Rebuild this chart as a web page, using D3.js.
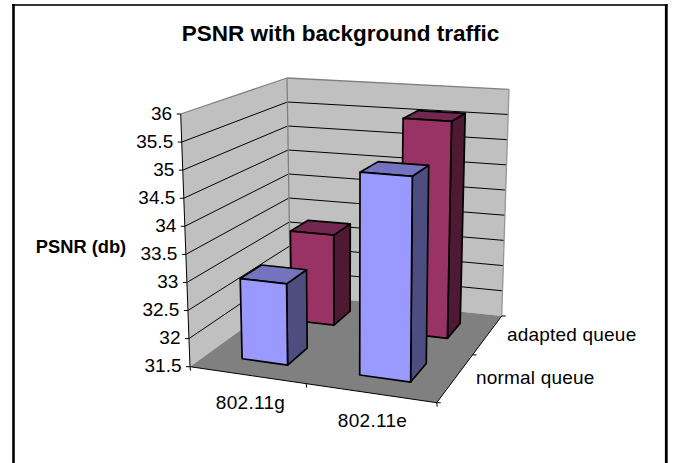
<!DOCTYPE html>
<html><head><meta charset="utf-8">
<style>html,body{margin:0;padding:0;background:#fff}svg{display:block}text{font-family:"Liberation Sans",Arial,sans-serif;fill:#000}</style>
<script src="https://d3js.org/d3.v7.min.js"></script></head>
<body><svg id="c" width="673" height="463"></svg>
<script>
const categories=["802.11g","802.11e"];
const seriesNames=["normal queue","adapted queue"];
const normalQueue=[32.95,35.05];
const adaptedQueue=[33.25,35.6];
const yTicks=[31.5,32,32.5,33,33.5,34,34.5,35,35.5,36];
const title="PSNR with background traffic";
const yTitle="PSNR (db)";

const svg=d3.select("#c");
const edge=(x1,y1,x2,y2,c,w)=>svg.append("line").attr("x1",x1).attr("y1",y1).attr("x2",x2).attr("y2",y2).attr("stroke",c).attr("stroke-width",w);
edge(12,5,667.5,5,"#333",1.8);
edge(13.5,4,13.5,463,"#000",2.6);
edge(666.3,4,666.3,463,"#000",2.8);

// perspective frame of the plot box
const floorQuad=[[190,366.7],[436.7,402.7],[501.7,316],[290.5,294]];
const ceilQuad=[[180.7,114],[439,131],[509,89.3],[287,78]];
function homography(q){
  const [[x0,y0],[x1,y1],[x2,y2],[x3,y3]]=q;
  const dx1=x1-x2,dx2=x3-x2,sx=x0-x1+x2-x3,dy1=y1-y2,dy2=y3-y2,sy=y0-y1+y2-y3;
  const det=dx1*dy2-dx2*dy1;
  const g=(sx*dy2-dx2*sy)/det,h=(dx1*sy-sx*dy1)/det;
  return (u,v)=>{
    const w=g*u+h*v+1;
    return [((x1-x0+g*x1)*u+(x3-x0+h*x3)*v+x0)/w,((y1-y0+g*y1)*u+(y3-y0+h*y3)*v+y0)/w];
  };
}
const hFloor=homography(floorQuad),hCeil=homography(ceilQuad);
const xBand=d3.scaleBand().domain(categories).range([0.008,1.008]).paddingInner(0.6).paddingOuter(0.3);
const zBand=d3.scaleBand().domain(seriesNames).range([0,1]).paddingInner(0.6).paddingOuter(0.3);
const yScale=d3.scaleLinear().domain([31.5,36]).range([0,1]);
const P=(u,v,val)=>{
  const a=hFloor(u,v),b=hCeil(u,v),t=yScale(val);
  return [a[0]+(b[0]-a[0])*t,a[1]+(b[1]-a[1])*t];
};
const poly=(pts,fill,stroke,sw)=>svg.append("polygon").attr("points",pts.map(p=>p.join(",")).join(" ")).attr("fill",fill).attr("stroke",stroke||"none").attr("stroke-width",sw||0).attr("stroke-linejoin","round");
const seg=(a,b,stroke,sw)=>edge(a[0],a[1],b[0],b[1],stroke,sw);
const [y0,y1]=yScale.domain();

// walls and floor
poly([P(0,0,y0),P(0,1,y0),P(0,1,y1),P(0,0,y1)],"#c0c0c0");
poly([P(0,1,y0),P(1,1,y0),P(1,1,y1),P(0,1,y1)],"#c0c0c0");
poly([P(0,0,y0),P(1,0,y0),P(1,1,y0),P(0,1,y0)],"#808080");
yTicks.slice(1,-1).forEach(t=>{
  seg(P(0,0,t),P(0,1,t),"#000",1);
  seg(P(0,1,t),P(1,1,t),"#000",1);
});
seg(P(0,0,y1),P(0,1,y1),"#808080",1.3);
seg(P(0,1,y1),P(1,1,y1),"#808080",1.3);
seg(P(1,1,y0),P(1,1,y1),"#969696",1.3);
seg(P(0,1,y0),P(0,1,y1),"#808080",1.3);
seg(P(0,0,y0),P(0,0,y1),"#000",1);
seg(P(0,0,y0),P(1,0,y0),"#000",1);
seg(P(1,0,y0),P(1,1,y0),"#000",1);

// ticks
yTicks.forEach(t=>{
  const p=P(0,0,t);
  seg([p[0]-4,p[1]],p,"#000",1);
  svg.append("text").attr("x",p[0]-8.5).attr("y",p[1]+5.5).attr("text-anchor","end").attr("font-size",19).text(t);
});
[0,0.5,1].forEach(u=>{const p=P(u,0,y0);seg(p,[p[0]+0.5,p[1]+4],"#000",1);});
[0,0.5,1].forEach(v=>{const p=P(1,v,y0);seg(p,[p[0]+4,p[1]],"#000",1);});

// bars, back row first
[[1,adaptedQueue,"#993366","#4d1933","#732650"],[0,normalQueue,"#9999ff","#4d4d80","#7373bf"]].forEach(([si,vals,front,side,top])=>{
  const v0=zBand(seriesNames[si]),v1=v0+zBand.bandwidth();
  categories.forEach((c,i)=>{
    const u0=xBand(c),u1=u0+xBand.bandwidth(),val=vals[i];
    poly([P(u1,v0,y0),P(u1,v1,y0),P(u1,v1,val),P(u1,v0,val)],side,"#000",1.7);
    poly([P(u0,v0,val),P(u1,v0,val),P(u1,v1,val),P(u0,v1,val)],top,"#000",1.7);
    poly([P(u0,v0,y0),P(u1,v0,y0),P(u1,v0,val),P(u0,v0,val)],front,"#000",1.7);
  });
});

// text
svg.append("text").attr("x",340.5).attr("y",40.5).attr("text-anchor","middle").attr("font-size",22.5).attr("font-weight","bold").text(title);
svg.append("text").attr("x",81).attr("y",253).attr("text-anchor","middle").attr("font-size",18.3).attr("font-weight","bold").text(yTitle);
svg.append("text").attr("x",250.5).attr("y",409).attr("text-anchor","middle").attr("font-size",19).attr("letter-spacing",0.3).text(categories[0]);
svg.append("text").attr("x",372.5).attr("y",427).attr("text-anchor","middle").attr("font-size",19).attr("letter-spacing",0.3).text(categories[1]);
svg.append("text").attr("x",507).attr("y",340.5).attr("font-size",19).attr("letter-spacing",0.2).text(seriesNames[1]);
svg.append("text").attr("x",476).attr("y",383.5).attr("font-size",19).attr("letter-spacing",0.2).text(seriesNames[0]);
</script></body></html>
